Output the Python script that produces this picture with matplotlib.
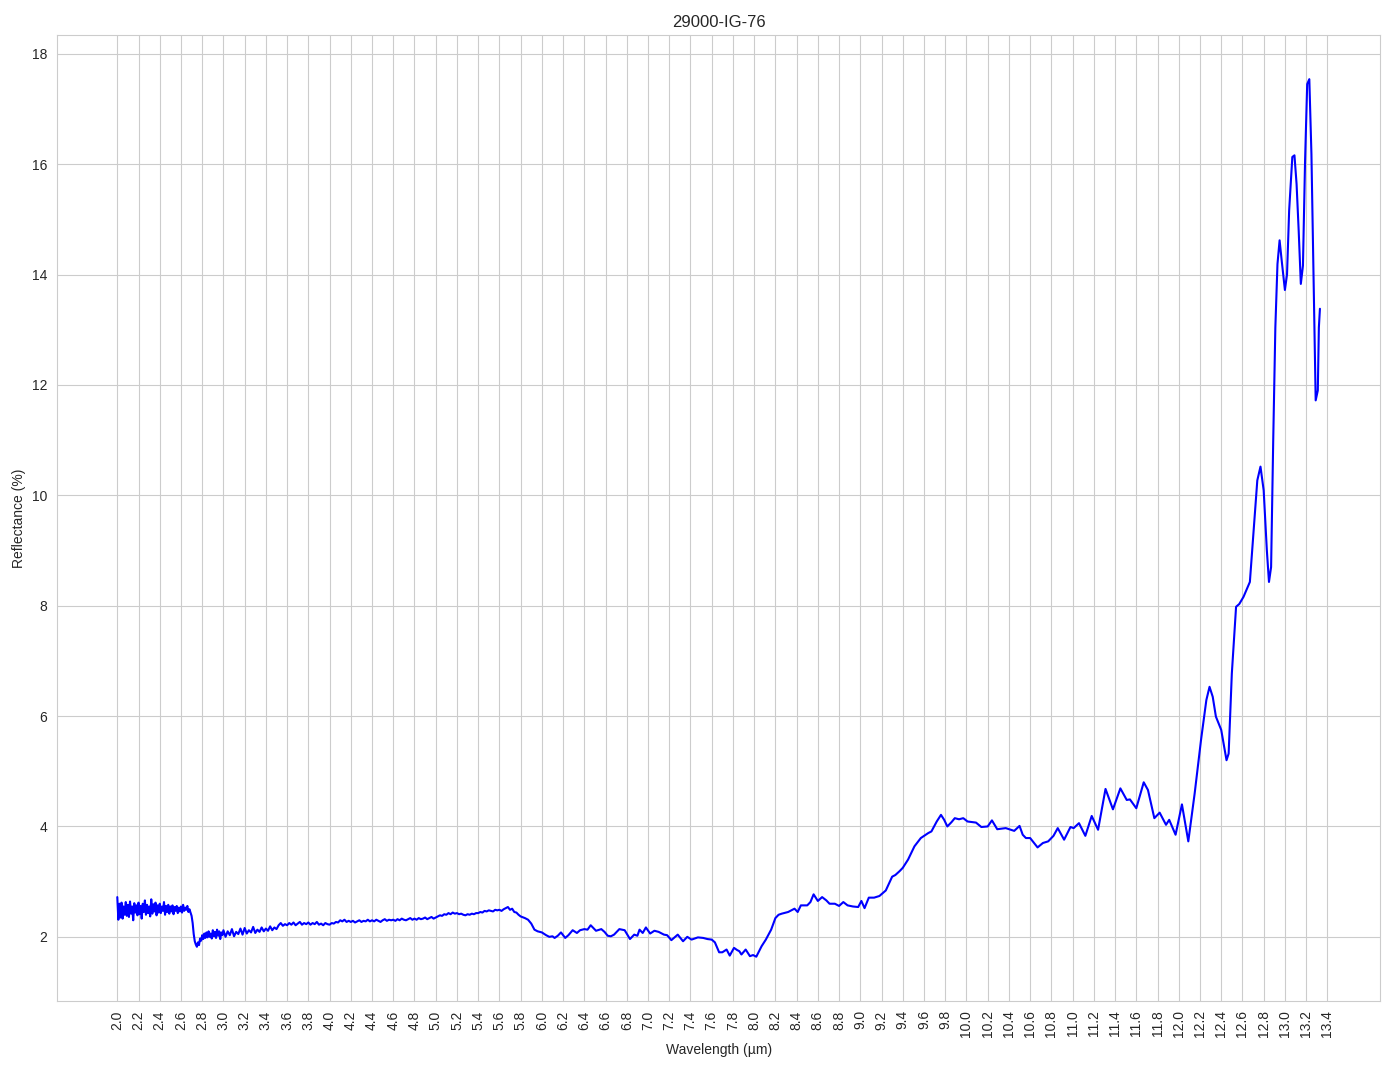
import matplotlib
matplotlib.use("Agg")
import matplotlib.pyplot as plt
import seaborn as sns
import numpy as np

# noisy start, 2.00 .. 2.99 step 0.01
wl_a = np.round(np.arange(2.00, 2.995, 0.01), 2)
refl_a = [
    2.72, 2.31, 2.60, 2.35, 2.62, 2.33, 2.55, 2.40, 2.63, 2.38,
    2.58, 2.36, 2.64, 2.42, 2.55, 2.30, 2.61, 2.44, 2.57, 2.39,
    2.62, 2.41, 2.56, 2.33, 2.60, 2.45, 2.66, 2.40, 2.58, 2.43,
    2.55, 2.37, 2.68, 2.42, 2.59, 2.46, 2.62, 2.39, 2.57, 2.44,
    2.60, 2.43, 2.55, 2.47, 2.63, 2.40, 2.56, 2.45, 2.58, 2.42,
    2.55, 2.46, 2.57, 2.41, 2.54, 2.47, 2.56, 2.43, 2.53, 2.46,
    2.55, 2.44, 2.58, 2.47, 2.53, 2.49, 2.56, 2.45, 2.50, 2.44,
    2.38, 2.25, 2.05, 1.92, 1.86, 1.82, 1.90, 1.85, 1.97, 1.93,
    2.03, 1.96, 2.06, 1.98, 2.08, 1.99, 2.10, 2.00, 2.06, 1.97,
    2.12, 2.01, 2.09, 1.98, 2.13, 2.02, 2.10, 1.96, 2.08, 2.03,
]

# 3.00 .. 5.78 step 0.02
wl_b = np.round(np.arange(3.00, 5.79, 0.02), 2)
refl_b = [
    2.12, 2.00, 2.10, 2.03, 2.14, 2.01, 2.09, 2.05, 2.15, 2.04,
    2.16, 2.06, 2.12, 2.08, 2.18, 2.07, 2.13, 2.09, 2.17, 2.10,
    2.15, 2.11, 2.19, 2.12, 2.17, 2.14, 2.21, 2.25, 2.20, 2.23,
    2.21, 2.25, 2.22, 2.26, 2.21, 2.24, 2.27, 2.22, 2.25, 2.23,
    2.26, 2.22, 2.25, 2.23, 2.27, 2.22, 2.24, 2.21, 2.25, 2.23,
    2.22, 2.25, 2.24, 2.27, 2.26, 2.30, 2.28, 2.31, 2.27, 2.29,
    2.27, 2.29, 2.26, 2.28, 2.30, 2.27, 2.29, 2.28, 2.31, 2.28,
    2.30, 2.28, 2.31, 2.29, 2.27, 2.30, 2.32, 2.29, 2.31, 2.30,
    2.31, 2.29, 2.32, 2.30, 2.33, 2.31, 2.30, 2.32, 2.34, 2.31,
    2.33, 2.31, 2.34, 2.32, 2.33, 2.35, 2.32, 2.34, 2.36, 2.33,
    2.35, 2.37, 2.39, 2.38, 2.41, 2.40, 2.43, 2.41, 2.44, 2.42,
    2.43, 2.41, 2.42, 2.40, 2.39, 2.41, 2.40, 2.42, 2.41, 2.43,
    2.43, 2.45, 2.44, 2.47, 2.46, 2.48, 2.47, 2.46, 2.49, 2.48,
    2.49, 2.47, 2.50, 2.52, 2.54, 2.49, 2.51, 2.45, 2.44, 2.40,
]

# rest of the spectrum
wl_c = [5.80, 5.84, 5.87, 5.90, 5.93, 5.96, 6.00, 6.04, 6.07, 6.10, 6.12, 6.15, 6.18, 6.22, 6.25,
        6.29, 6.33, 6.36, 6.40, 6.43, 6.46, 6.51, 6.56, 6.59, 6.62, 6.65, 6.68, 6.73, 6.78, 6.83,
        6.87, 6.90, 6.92, 6.95, 6.98, 7.02, 7.06, 7.10, 7.15, 7.18, 7.22, 7.28, 7.33, 7.37, 7.41,
        7.47, 7.52, 7.56, 7.60, 7.63, 7.67, 7.70, 7.74, 7.77, 7.81, 7.84, 7.86, 7.88, 7.92, 7.96,
        7.99, 8.02, 8.07, 8.11, 8.16, 8.20, 8.23, 8.26, 8.32, 8.38, 8.41, 8.44, 8.50, 8.53, 8.56,
        8.60, 8.64, 8.68, 8.71, 8.76, 8.80, 8.84, 8.88, 8.93, 8.98, 9.01, 9.04, 9.08, 9.13, 9.18,
        9.24, 9.30, 9.33, 9.37, 9.40, 9.45, 9.51, 9.57, 9.64, 9.67, 9.72, 9.76, 9.79, 9.82, 9.86,
        9.89, 9.93, 9.97, 10.01, 10.09, 10.14, 10.20, 10.24, 10.29, 10.37, 10.45, 10.50, 10.53,
        10.56, 10.60, 10.67, 10.72, 10.77, 10.82, 10.86, 10.92, 10.98, 11.01, 11.06, 11.12, 11.18,
        11.24, 11.31, 11.38, 11.45, 11.51, 11.54, 11.60, 11.67, 11.71, 11.77, 11.82, 11.88, 11.91,
        11.97, 12.03, 12.09, 12.15, 12.21, 12.26, 12.29, 12.32, 12.35, 12.40, 12.45, 12.47, 12.50,
        12.54, 12.57, 12.61, 12.67, 12.71, 12.74, 12.77, 12.80, 12.83, 12.85, 12.87, 12.89, 12.91,
        12.93, 12.95, 12.97, 13.00, 13.02, 13.04, 13.07, 13.09, 13.11, 13.13, 13.15, 13.17, 13.19,
        13.21, 13.23, 13.25, 13.27, 13.29, 13.31, 13.32, 13.33]
refl_c = [2.37, 2.34, 2.31, 2.24, 2.13, 2.10, 2.08, 2.03, 2.00, 2.01, 1.98, 2.02, 2.08, 1.98, 2.03,
          2.12, 2.07, 2.12, 2.14, 2.13, 2.21, 2.11, 2.14, 2.09, 2.02, 2.01, 2.04, 2.14, 2.12, 1.96,
          2.04, 2.02, 2.13, 2.07, 2.17, 2.06, 2.11, 2.09, 2.04, 2.03, 1.94, 2.04, 1.92, 2.00, 1.95,
          1.99, 1.98, 1.96, 1.95, 1.90, 1.72, 1.72, 1.77, 1.66, 1.80, 1.76, 1.74, 1.68, 1.77, 1.65,
          1.67, 1.64, 1.83, 1.95, 2.13, 2.34, 2.40, 2.42, 2.45, 2.51, 2.45, 2.57, 2.57, 2.63, 2.77,
          2.65, 2.72, 2.66, 2.60, 2.60, 2.56, 2.63, 2.57, 2.55, 2.54, 2.65, 2.52, 2.71, 2.71, 2.74,
          2.84, 3.09, 3.12, 3.19, 3.25, 3.40, 3.64, 3.79, 3.88, 3.91, 4.09, 4.21, 4.12, 4.00, 4.08,
          4.15, 4.13, 4.15, 4.09, 4.07, 3.99, 4.00, 4.11, 3.95, 3.97, 3.92, 4.01, 3.85,
          3.79, 3.79, 3.62, 3.70, 3.73, 3.83, 3.97, 3.76, 3.99, 3.97, 4.06, 3.83, 4.19,
          3.94, 4.68, 4.31, 4.69, 4.48, 4.49, 4.33, 4.80, 4.66, 4.15, 4.25, 4.03, 4.12,
          3.85, 4.40, 3.73, 4.60, 5.57, 6.29, 6.53, 6.35, 5.99, 5.75, 5.20, 5.32, 6.77,
          7.98, 8.03, 8.16, 8.43, 9.49, 10.27, 10.52, 10.09, 9.00, 8.43, 8.70, 11.00, 13.04,
          14.19, 14.62, 14.25, 13.72, 14.00, 15.16, 16.13, 16.16, 15.64, 14.79, 13.83, 14.16, 16.06,
          17.45, 17.54, 16.18, 13.95, 11.72, 11.90, 13.04, 13.38]

wavelength = list(wl_a) + list(wl_b) + wl_c
reflectance = refl_a + refl_b + refl_c

xtick_vals = np.round(np.arange(2.0, 13.41, 0.2), 1)

sns.set_style("whitegrid")
plt.rcParams['font.family'] = ['Liberation Sans', 'DejaVu Sans']
fig, ax = plt.subplots(figsize=(13.94, 10.69), dpi=100)
ax.plot(wavelength, reflectance, color="blue", linewidth=1.5)
ax.set_title("29000-IG-76")
ax.set_xlabel("Wavelength (µm)")
ax.set_ylabel("Reflectance (%)")
ax.set_xticks(xtick_vals)
ax.set_xticklabels([f"{v:.1f}" for v in xtick_vals], rotation=90)
fig.subplots_adjust(left=0.041, right=0.990, top=0.967, bottom=0.064)
fig.savefig("out.png", dpi=100)
